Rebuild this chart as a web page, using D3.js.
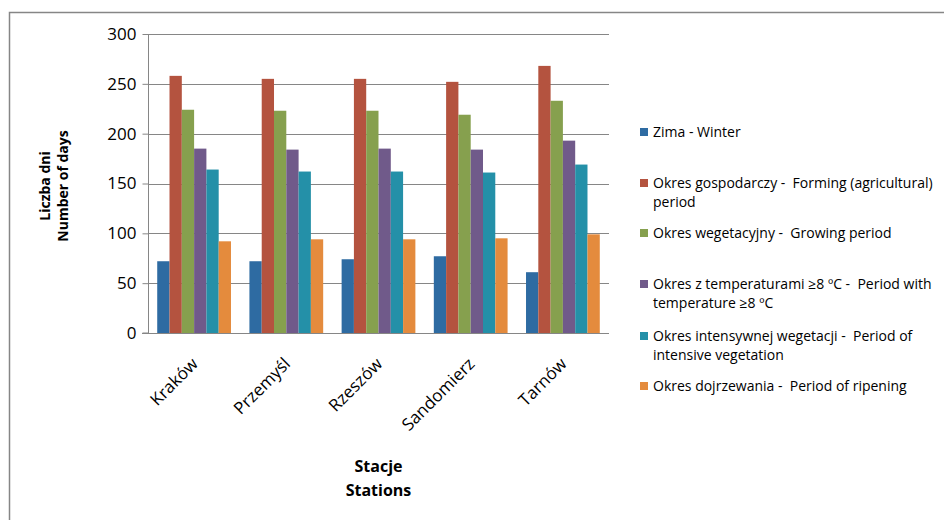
<!DOCTYPE html>
<html>
<head>
<meta charset="utf-8">
<style>
  body { margin: 0; background: #fff; }
  svg text { font-family: 'Open Sans', sans-serif; fill: #000; white-space: pre; }
</style>
</head>
<body>
<svg id="chart" width="944" height="520"></svg>
<script src="https://cdn.jsdelivr.net/npm/d3@7"></script>
<script>
/* global d3 */

// stations on the x axis
const stations = ['Kraków', 'Przemyśl', 'Rzeszów', 'Sandomierz', 'Tarnów']

// series labels (legend), split into lines as in the original
const seriesNames = [
  ['Zima - Winter'],
  ['Okres gospodarczy -  Forming (agricultural)', 'period'],
  ['Okres wegetacyjny -  Growing period'],
  ['Okres z temperaturami ≥8 ºC -  Period with', 'temperature ≥8 ºC'],
  ['Okres intensywnej wegetacji -  Period of', 'intensive vegetation'],
  ['Okres dojrzewania -  Period of ripening']
]
const seriesColors = ['#2e6ba2', '#b4533f', '#86a04e', '#705a8a', '#2490a8', '#e48b3d']

// values per series, one per station
const winter    = [72, 72, 74, 77, 61]
const forming   = [258, 255, 255, 252, 268]
const growing   = [224, 223, 223, 219, 233]
const above8    = [185, 184, 185, 184, 193]
const intensive = [164, 162, 162, 161, 169]
const ripening  = [92, 94, 94, 95, 99]
const series = [winter, forming, growing, above8, intensive, ripening]

const yTicks = [0, 50, 100, 150, 200, 250, 300]

const svg = d3.select('#chart')

// outer frame (left + top edges visible)
svg.append('path')
  .attr('d', 'M9.5,520 L9.5,12.5 L944,12.5')
  .attr('fill', 'none')
  .attr('stroke', '#868686')
  .attr('stroke-width', 1.5)

const plot = { left: 148, right: 609, top: 34, bottom: 333 }

const x0 = d3.scaleBand()
  .domain(stations)
  .range([plot.left, plot.right])
  .paddingInner(0)

const bandPad = x0.bandwidth() * 1.5 / 7.5 / 2
const x1 = d3.scaleBand()
  .domain(d3.range(series.length))
  .range([bandPad, x0.bandwidth() - bandPad])

const y = d3.scaleLinear().domain([0, 300]).range([plot.bottom, plot.top])

// gridlines
svg.append('g')
  .selectAll('line')
  .data(yTicks.filter(d => d > 0))
  .join('line')
  .attr('x1', plot.left)
  .attr('x2', plot.right)
  .attr('y1', d => Math.round(y(d)) + 0.5)
  .attr('y2', d => Math.round(y(d)) + 0.5)
  .attr('stroke', '#868686')
  .attr('stroke-width', 1.2)

// y axis
const yAxis = d3.axisLeft(y).tickValues(yTicks).tickSize(6).tickPadding(6)
const gy = svg.append('g')
  .attr('transform', `translate(${plot.left + 0.5},0)`)
  .call(yAxis)
gy.select('.domain').attr('stroke', '#868686').attr('d', `M-6,${plot.bottom}H0V${plot.top}`)
gy.selectAll('.tick line').attr('stroke', '#868686')
gy.selectAll('.tick text').style('font-size', '17px').attr('fill', '#000')

// bars
const groups = svg.append('g')
  .selectAll('g')
  .data(stations)
  .join('g')
  .attr('transform', d => `translate(${x0(d)},0)`)

groups.selectAll('rect')
  .data((d, i) => series.map((s, k) => ({ k, v: s[i] })))
  .join('rect')
  .attr('x', d => x1(d.k))
  .attr('width', x1.bandwidth())
  .attr('y', d => y(d.v))
  .attr('height', d => y(0) - y(d.v))
  .attr('fill', d => seriesColors[d.k])

// x axis line
svg.append('line')
  .attr('x1', 142).attr('x2', plot.right)
  .attr('y1', plot.bottom + 0.5).attr('y2', plot.bottom + 0.5)
  .attr('stroke', '#868686')
  .attr('stroke-width', 1.2)

// x labels, rotated
svg.append('g')
  .selectAll('text')
  .data(stations)
  .join('text')
  .attr('transform', d => `translate(${x0(d) + x0.bandwidth() / 2 + 5},${plot.bottom + 32}) rotate(-45)`)
  .attr('text-anchor', 'end')
  .style('font-size', '17px')
  .text(d => d)

// axis titles
const yTitle = svg.append('text')
  .attr('transform', 'translate(54,186) rotate(-90)')
  .attr('text-anchor', 'middle')
  .style('font-size', '14px')
  .style('font-weight', 'bold')
yTitle.append('tspan').attr('x', 0).attr('dy', '-0.3em').text('Liczba dni')
yTitle.append('tspan').attr('x', 0).attr('dy', '1.3em').text('Number of days')

const xTitle = svg.append('text')
  .attr('text-anchor', 'middle')
  .style('font-size', '16px')
  .style('font-weight', 'bold')
xTitle.append('tspan').attr('x', (plot.left + plot.right) / 2).attr('y', 472).text('Stacje')
xTitle.append('tspan').attr('x', (plot.left + plot.right) / 2).attr('y', 496).text('Stations')

// legend
const legendY = [132, 183, 233, 284, 336, 386]
const legend = svg.append('g')
  .selectAll('g')
  .data(seriesNames)
  .join('g')
  .attr('transform', (d, i) => `translate(640,${legendY[i]})`)

legend.append('rect')
  .attr('x', 0).attr('y', -4)
  .attr('width', 8).attr('height', 8)
  .attr('fill', (d, i) => seriesColors[i])

legend.append('text')
  .attr('x', 13)
  .attr('y', 5)
  .style('font-size', '14px')
  .selectAll('tspan')
  .data(d => d)
  .join('tspan')
  .attr('x', 13)
  .attr('dy', (d, i) => i === 0 ? 0 : 18.5)
  .text(d => d)
</script>
</body>
</html>
